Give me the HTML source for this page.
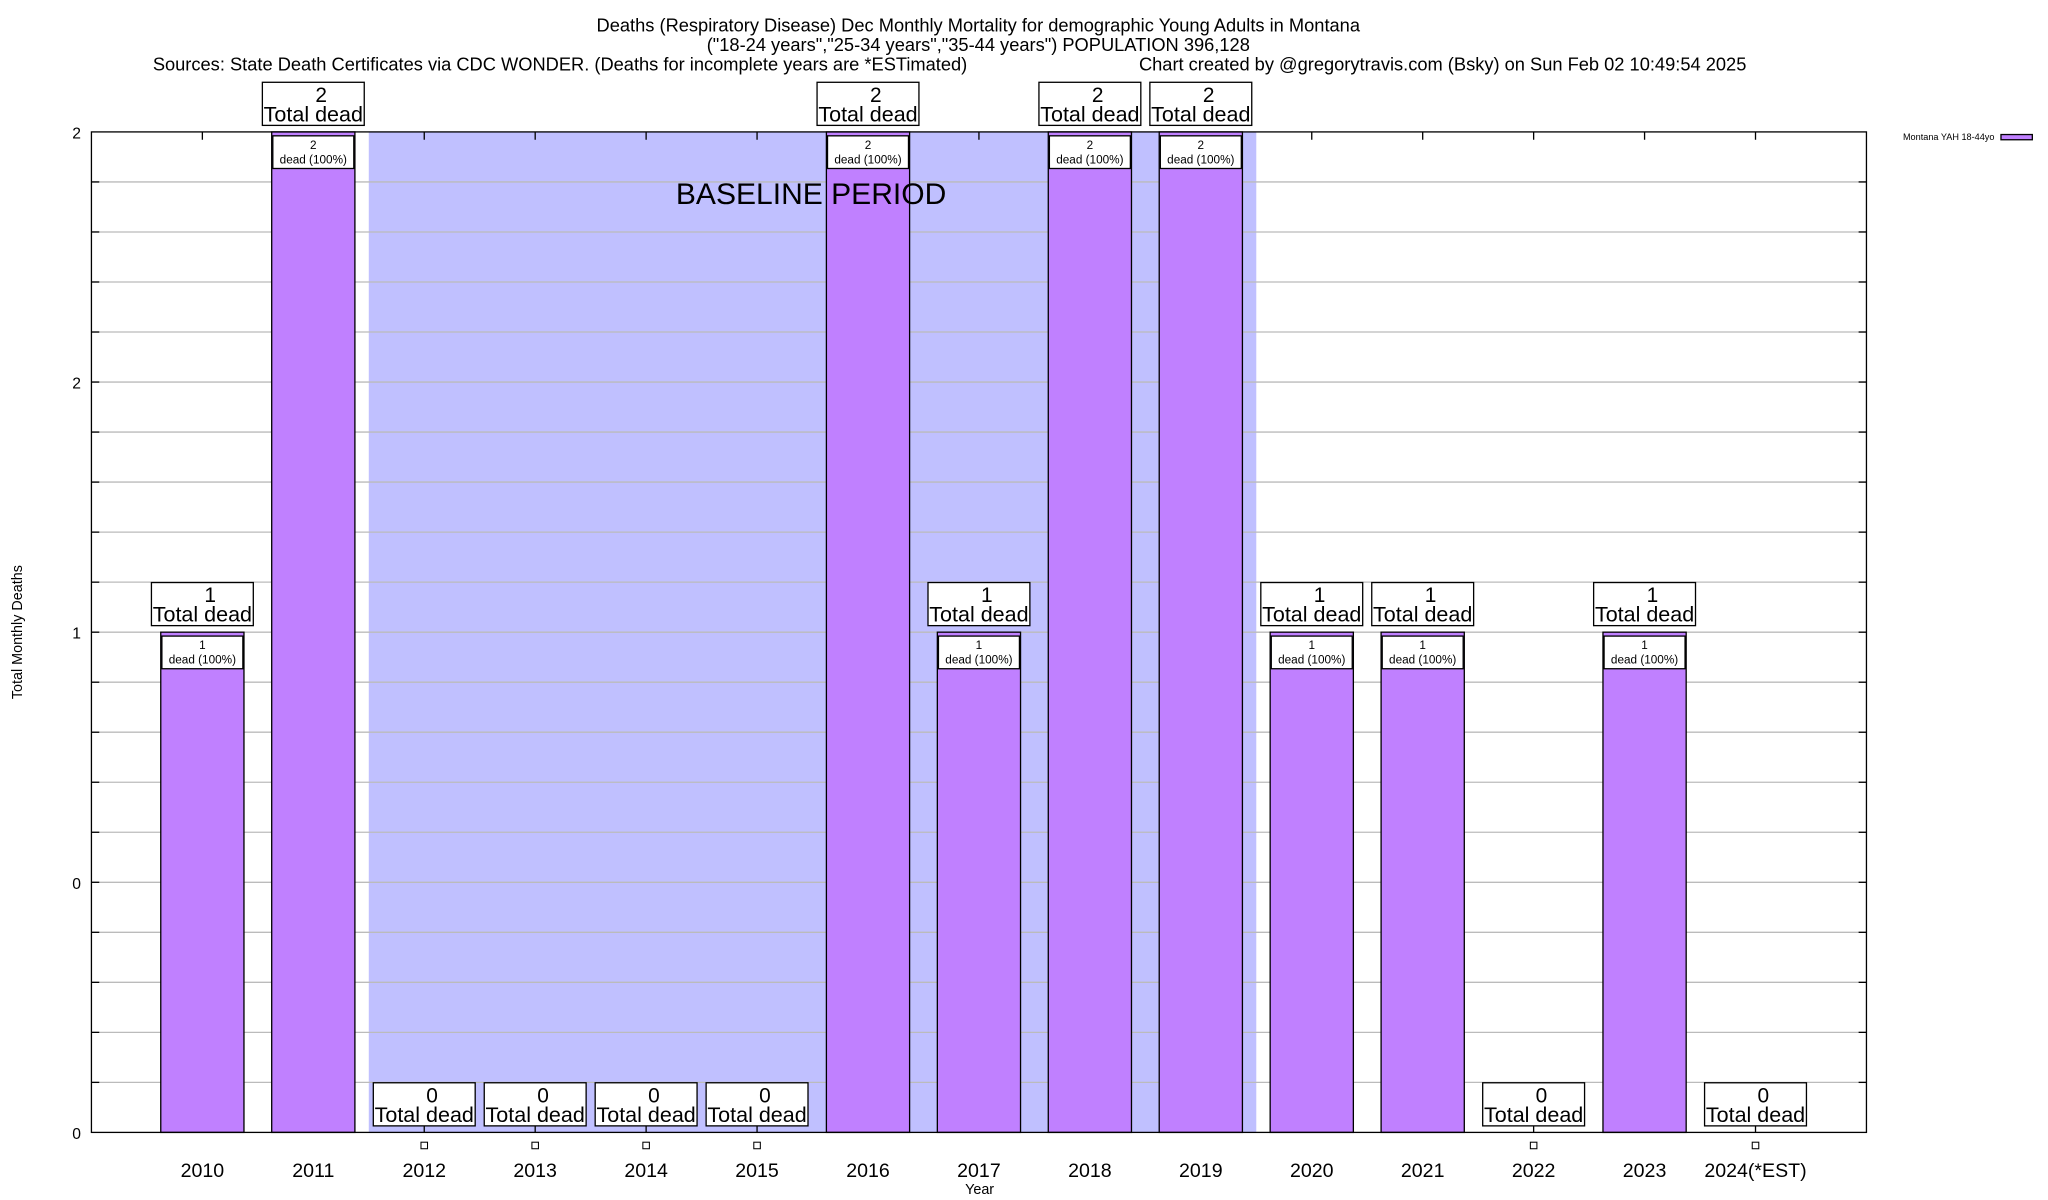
<!DOCTYPE html>
<html><head><meta charset="utf-8"><style>
html,body{margin:0;padding:0;background:#fff;}
svg{display:block;font-family:"Liberation Sans",Arial,sans-serif;}
</style></head><body>
<svg id="chart" width="2048" height="1200" viewBox="0 0 1568 918.75" xmlns="http://www.w3.org/2000/svg">
<rect x="0" y="0" width="1568" height="918.75" fill="#fff"/>
<g id="title" font-size="14" text-anchor="middle">
<text x="749" y="24">Deaths (Respiratory Disease) Dec Monthly Mortality for demographic Young Adults in Montana</text>
<text x="749" y="39">("18-24 years","25-34 years","35-44 years") POPULATION 396,128</text>
<text x="117" y="54" text-anchor="start">Sources: State Death Certificates via CDC WONDER. (Deaths for incomplete years are *ESTimated)</text>
<text x="872" y="54" text-anchor="start">Chart created by @gregorytravis.com (Bsky) on Sun Feb 02 10:49:54 2025</text>
</g>
<g id="plot"></g>
<text x="17" y="484" font-size="11" text-anchor="middle" transform="rotate(-90 17 484)">Total Monthly Deaths</text>
<text x="750" y="914" font-size="11" text-anchor="middle">Year</text>
<g>
<text x="1527" y="107" font-size="7" text-anchor="end">Montana YAH 18-44yo</text>
<rect x="1532" y="103" width="24" height="4" fill="#c080ff" stroke="#000" stroke-width="1"/>
</g>
</svg>
<script>
const categories = ["2010","2011","2012","2013","2014","2015","2016","2017","2018","2019","2020","2021","2022","2023","2024(*EST)"];
const values = [1,2,0,0,0,0,2,1,2,2,1,1,0,1,0];
const yTickValues = [0,0.5,1,1.5,2];
const yTickLabels = ["0","0","1","2","2"];
const baselineStart = 1.5, baselineEnd = 9.5;

const L=70, R=1429, T=101, B=867;
const x = i => L + (i + 1) * (R - L) / 16;
const y = v => B - v * (B - T) / 2;
const NS="http://www.w3.org/2000/svg";
const g=document.getElementById('plot');
function mk(tag, attrs, parent){const e=document.createElementNS(NS,tag);for(const k in attrs)e.setAttribute(k,attrs[k]);(parent||g).appendChild(e);return e;}

const bs=mk('rect',{x:x(baselineStart),y:T,width:x(baselineEnd)-x(baselineStart),height:B-T,fill:'#c0c0ff'});


for(let k=1;k<20;k++){
  const gl=mk('line',{x1:L,x2:R,y1:y(k*0.1),y2:y(k*0.1),stroke:'#bbb','stroke-width':1});
  
  
  mk('line',{x1:L,x2:L+6,y1:y(k*0.1),y2:y(k*0.1),stroke:'#000'});
  mk('line',{x1:R-6,x2:R,y1:y(k*0.1),y2:y(k*0.1),stroke:'#000'});
}
yTickValues.forEach((v,i)=>{
  const t=mk('text',{x:62,y:y(v)+5,'font-size':12,'text-anchor':'end'});
  t.textContent=yTickLabels[i];
  
  
});
const bw=(R-L)/16*0.75;
categories.forEach((c,i)=>{
  const cx=x(i), v=values[i];
  mk('line',{x1:cx,x2:cx,y1:B,y2:B-6,stroke:'#000'});
  mk('line',{x1:cx,x2:cx,y1:T,y2:T+6,stroke:'#000'});
  const xl=mk('text',{x:cx,y:901,'font-size':15,'text-anchor':'middle'});
  xl.textContent=c;
  
  
  if(v>0){
    const b=mk('rect',{x:cx-bw/2,y:y(v),width:bw,height:B-y(v),fill:'#c080ff',stroke:'#000','stroke-width':1});
    
    
    const ib=mk('rect',{x:cx-31,y:y(v)+3,width:62,height:25,fill:'#fff',stroke:'#000','stroke-width':1});
    
    
    const t1=mk('text',{x:cx,y:y(v)+13,'font-size':9,'text-anchor':'middle'});t1.textContent=String(v);
    const t2=mk('text',{x:cx,y:y(v)+24,'font-size':9,'text-anchor':'middle'});t2.textContent='dead (100%)';
  } else {
    const m=mk('rect',{x:cx-2.5,y:874.5,width:5,height:5,fill:'#fff',stroke:'#000','stroke-width':0.8});
    
    
  }
  const ty=y(v)-38;
  const ob=mk('rect',{x:cx-39,y:ty,width:78,height:33,fill:'#fff',stroke:'#000','stroke-width':1});
  
  
  const o1=mk('text',{x:cx+6,y:ty+15,'font-size':16,'text-anchor':'middle'});o1.textContent=String(v);
  const o2=mk('text',{x:cx,y:ty+30,'font-size':16,'text-anchor':'middle','textLength':76,'lengthAdjust':'spacingAndGlyphs'});o2.textContent='Total dead';
});
const bt=mk('text',{x:621,y:156,'font-size':23,'text-anchor':'middle'});
bt.textContent='BASELINE PERIOD';


const fr=mk('rect',{x:L,y:T,width:R-L,height:B-T,fill:'none',stroke:'#000','stroke-width':1});


</script>
</body></html>
